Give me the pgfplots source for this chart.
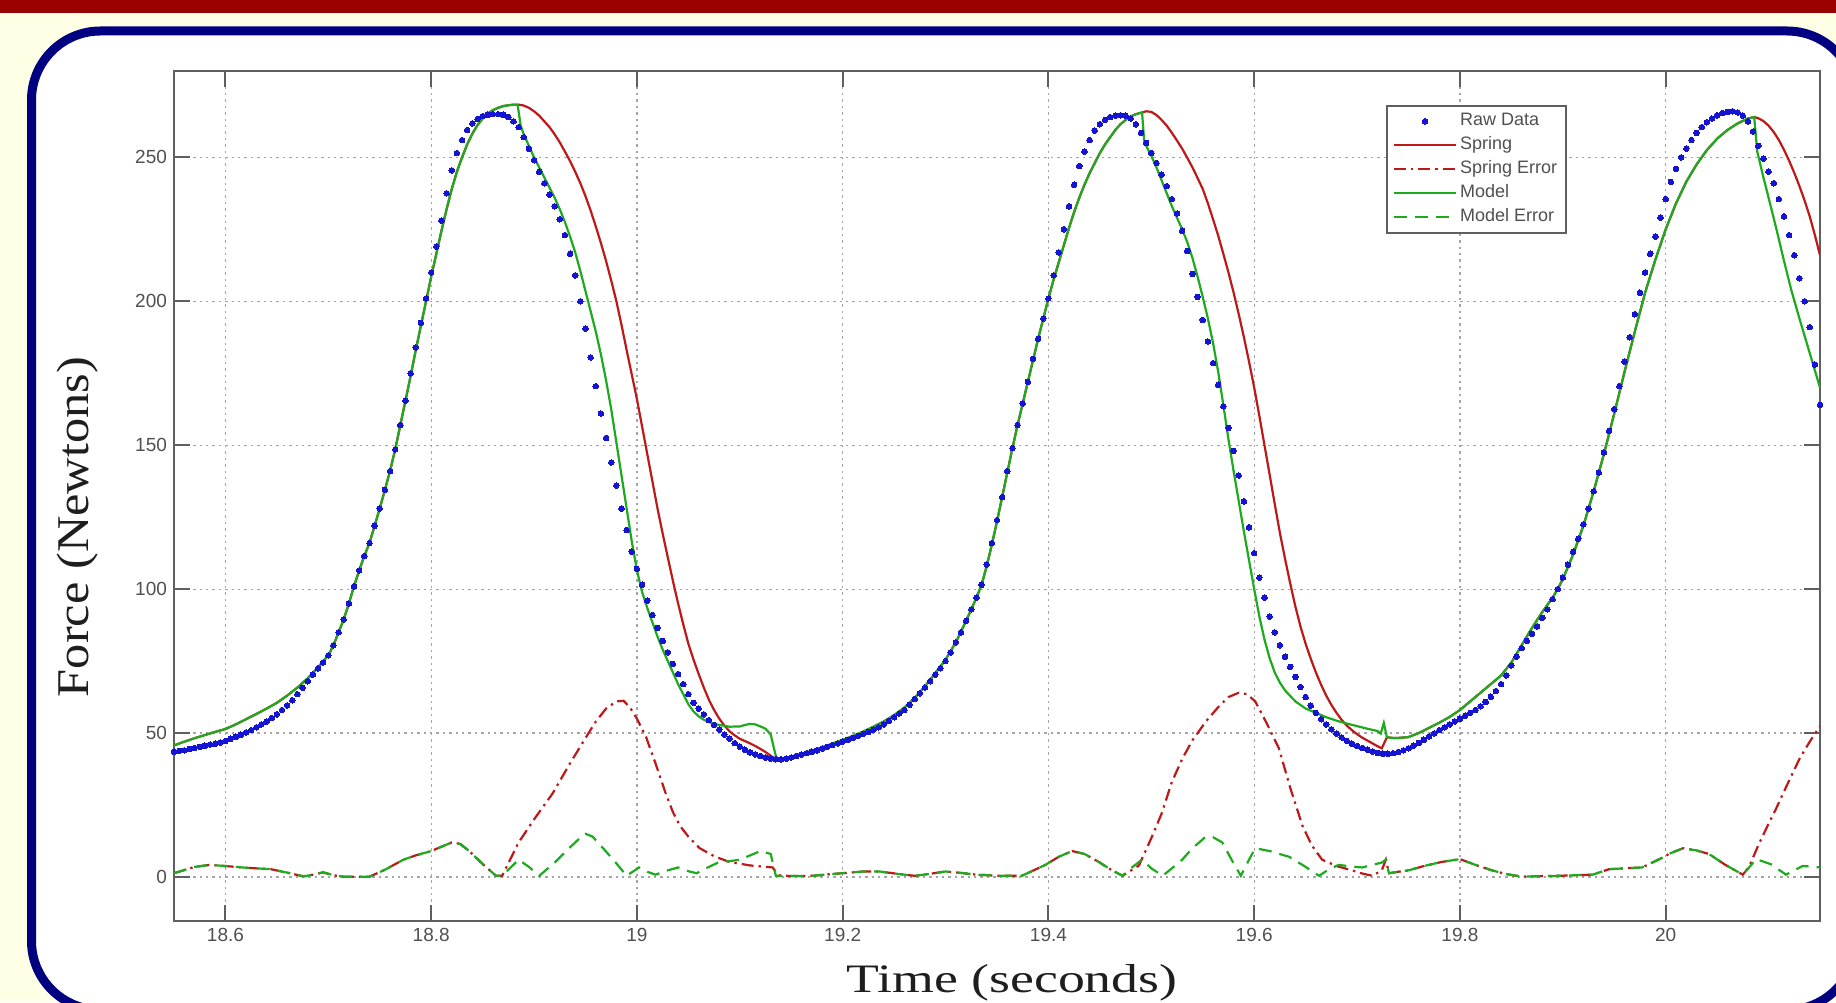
\documentclass[border=0pt]{standalone}
\usepackage{fontspec}
\setmainfont{Liberation Serif}
\setsansfont{Liberation Sans}
\usepackage{graphicx}
\usepackage{pgfplots}
\pgfplotsset{compat=1.18}
\definecolor{bgyellow}{RGB}{255,255,230}
\definecolor{topred}{RGB}{153,0,0}
\definecolor{boxnavy}{RGB}{0,0,128}
\definecolor{axgray}{RGB}{95,95,95}
\definecolor{gridgray}{RGB}{165,165,165}
\definecolor{ticktext}{RGB}{80,80,80}
\definecolor{labeltext}{RGB}{30,30,30}
\definecolor{rawblue}{RGB}{20,20,210}
\definecolor{springred}{RGB}{190,25,25}
\definecolor{modelgreen}{RGB}{30,170,30}
\begin{document}
\begin{tikzpicture}[x=1pt,y=1pt]
\fill[bgyellow] (0,0) rectangle (918,501);
\fill[topred] (0,494.5) rectangle (918,501);
\draw[boxnavy, line width=4.5pt, fill=white, rounded corners=34.5pt] (15.75,-4) rectangle (928,485.5);
\begin{axis}[
  at={(87pt,40.5pt)}, anchor=south west,
  scale only axis, width=823pt, height=425pt,
  xmin=18.55, xmax=20.15, ymin=-15.3, ymax=280,
  xtick={18.6,18.8,19,19.2,19.4,19.6,19.8,20},
  xticklabels={18.6,18.8,19,19.2,19.4,19.6,19.8,20},
  ytick={0,50,100,150,200,250},
  yticklabels={0,50,100,150,200,250},
  grid=major,
  major grid style={gridgray, line width=0.6pt, dash pattern=on 1.2pt off 2pt},
  axis line style={axgray, line width=1pt},
  tick align=inside, major tick length=8pt,
  every tick/.style={axgray, line width=1pt},
  tick label style={font=\sffamily\fontsize{9.5}{11}\selectfont, text=ticktext},
  /pgf/number format/assume math mode=true,
  legend image code/.code={\draw[mark repeat=2,mark phase=2,#1] plot coordinates {(0pt,0pt) (15.5pt,0pt) (31pt,0pt)};},
  legend cell align=left,
  legend style={at={(0.8463,0.96)}, anchor=north east, draw=axgray, line width=0.8pt, fill=white,
    font=\sffamily\fontsize{9}{10}\selectfont, text=ticktext, inner xsep=3pt, inner ysep=2pt, row sep=0.5pt,
    nodes={inner sep=1.5pt, text height=6.5pt, text depth=2pt}},
]
% Raw Data
\addplot[only marks, mark=*, mark size=1.4pt, mark options={fill=rawblue, draw=rawblue, line width=0pt}] table {
18.550 43.5
18.555 43.8
18.560 44.0
18.565 44.5
18.570 44.8
18.575 45.2
18.580 45.6
18.585 46.0
18.590 46.3
18.595 46.7
18.600 47.2
18.605 48.0
18.610 48.7
18.615 49.4
18.620 50.2
18.625 51.0
18.630 52.0
18.635 53.0
18.640 54.0
18.645 55.2
18.650 56.5
18.655 58.0
18.660 59.6
18.665 61.4
18.670 63.5
18.675 65.7
18.680 68.0
18.685 70.3
18.690 72.5
18.695 74.5
18.700 77.0
18.705 80.5
18.710 85.0
18.715 89.5
18.720 95.0
18.725 101.0
18.730 106.5
18.735 111.5
18.740 116.0
18.745 122.0
18.750 128.0
18.755 134.5
18.760 141.0
18.765 148.5
18.770 157.0
18.775 165.5
18.780 175.0
18.785 184.0
18.790 192.5
18.795 201.0
18.800 210.0
18.805 219.0
18.810 228.0
18.815 237.5
18.820 245.5
18.825 251.5
18.830 256.0
18.835 259.5
18.840 261.8
18.845 263.3
18.850 264.3
18.855 264.8
18.860 265.0
18.865 265.0
18.870 264.8
18.875 264.0
18.880 262.5
18.885 260.5
18.890 257.0
18.895 253.0
18.900 249.0
18.905 245.0
18.910 241.0
18.915 237.0
18.920 233.0
18.925 228.5
18.930 223.0
18.935 216.5
18.940 209.0
18.945 200.0
18.950 190.5
18.955 180.5
18.960 170.5
18.965 161.0
18.970 152.5
18.975 144.0
18.980 136.0
18.985 128.0
18.990 120.5
18.995 113.0
19.000 107.0
19.005 101.5
19.010 96.0
19.015 91.0
19.020 86.5
19.025 82.0
19.030 78.0
19.035 74.0
19.040 70.5
19.045 67.0
19.050 63.5
19.055 60.5
19.060 58.5
19.065 56.5
19.070 54.5
19.075 52.8
19.080 51.2
19.085 49.5
19.090 48.0
19.095 46.5
19.100 45.3
19.105 44.2
19.110 43.3
19.115 42.6
19.120 42.0
19.125 41.5
19.130 41.1
19.135 40.9
19.140 40.9
19.145 41.1
19.150 41.5
19.155 42.0
19.160 42.5
19.165 43.0
19.170 43.5
19.175 44.0
19.180 44.6
19.185 45.2
19.190 45.8
19.195 46.4
19.200 47.0
19.205 47.6
19.210 48.3
19.215 49.0
19.220 49.7
19.225 50.4
19.230 51.2
19.235 52.0
19.240 53.0
19.245 54.2
19.250 55.5
19.255 56.8
19.260 58.0
19.265 59.8
19.270 61.8
19.275 63.8
19.280 65.8
19.285 68.0
19.290 70.3
19.295 72.5
19.300 75.0
19.305 78.0
19.310 81.5
19.315 85.0
19.320 89.0
19.325 93.0
19.330 97.0
19.335 101.5
19.340 108.5
19.345 116.0
19.350 124.0
19.355 132.0
19.360 141.0
19.365 149.0
19.370 157.0
19.375 164.5
19.380 172.0
19.385 180.0
19.390 187.0
19.395 194.0
19.400 201.0
19.405 209.0
19.410 217.0
19.415 225.0
19.420 233.0
19.425 240.5
19.430 247.0
19.435 252.0
19.440 256.0
19.445 259.3
19.450 261.5
19.455 263.0
19.460 264.0
19.465 264.5
19.470 264.6
19.475 264.5
19.480 263.5
19.485 261.5
19.490 258.5
19.495 255.0
19.500 251.5
19.505 248.0
19.510 244.0
19.515 240.0
19.520 235.5
19.525 230.5
19.530 224.5
19.535 217.5
19.540 209.5
19.545 201.5
19.550 193.5
19.555 186.0
19.560 178.5
19.565 171.0
19.570 163.5
19.575 156.0
19.580 148.0
19.585 139.5
19.590 130.5
19.595 121.5
19.600 112.5
19.605 104.0
19.610 97.0
19.615 90.5
19.620 85.0
19.625 80.5
19.630 76.5
19.635 73.0
19.640 69.5
19.645 66.0
19.650 62.5
19.655 59.5
19.660 57.0
19.665 54.8
19.670 53.0
19.675 51.3
19.680 49.8
19.685 48.5
19.690 47.3
19.695 46.3
19.700 45.5
19.705 44.8
19.710 44.2
19.715 43.6
19.720 43.1
19.725 42.8
19.730 42.8
19.735 43.0
19.740 43.4
19.745 44.0
19.750 44.7
19.755 45.6
19.760 46.6
19.765 47.7
19.770 48.8
19.775 49.9
19.780 51.0
19.785 52.0
19.790 53.0
19.795 54.0
19.800 55.0
19.805 56.0
19.810 57.0
19.815 58.0
19.820 59.3
19.825 60.8
19.830 62.6
19.835 64.6
19.840 67.0
19.845 70.0
19.850 73.5
19.855 76.5
19.860 79.5
19.865 82.0
19.870 84.5
19.875 87.0
19.880 90.0
19.885 93.0
19.890 96.5
19.895 100.0
19.900 104.0
19.905 108.5
19.910 113.0
19.915 117.5
19.920 122.5
19.925 128.0
19.930 134.0
19.935 140.5
19.940 147.5
19.945 155.0
19.950 162.5
19.955 170.5
19.960 179.0
19.965 187.5
19.970 195.5
19.975 203.0
19.980 210.0
19.985 216.5
19.990 222.5
19.995 229.0
20.000 235.5
20.005 241.5
20.010 246.0
20.015 250.0
20.020 253.0
20.025 256.0
20.030 258.5
20.035 260.5
20.040 262.2
20.045 263.5
20.050 264.6
20.055 265.4
20.060 265.8
20.065 266.0
20.070 265.6
20.075 264.5
20.080 262.5
20.085 259.0
20.090 254.0
20.095 249.5
20.100 245.0
20.105 241.0
20.110 235.5
20.115 229.5
20.120 223.0
20.125 216.0
20.130 208.0
20.135 200.0
20.140 191.0
20.145 178.0
20.150 164.0
};
\addlegendentry{Raw Data}
% Spring
\addplot[springred, line width=1.1pt] table {
18.550 45.7
18.560 47.0
18.570 48.2
18.580 49.3
18.590 50.4
18.600 51.4
18.610 53.0
18.620 54.8
18.630 56.6
18.640 58.5
18.650 60.5
18.660 63.0
18.670 65.8
18.680 69.0
18.690 72.8
18.700 77.0
18.705 80.5
18.710 85.0
18.715 89.5
18.720 95.0
18.725 101.0
18.730 106.5
18.735 111.5
18.740 116.0
18.745 122.0
18.750 128.0
18.755 134.5
18.760 141.0
18.765 148.5
18.770 157.0
18.775 165.5
18.780 174.0
18.785 183.0
18.790 191.5
18.795 200.0
18.800 208.5
18.805 216.5
18.810 224.5
18.815 232.0
18.820 239.0
18.825 245.0
18.830 250.0
18.835 254.5
18.840 258.2
18.845 261.2
18.850 263.5
18.855 265.2
18.860 266.4
18.865 267.2
18.870 267.8
18.875 268.1
18.880 268.3
18.885 268.3
18.890 268.0
18.895 267.2
18.900 266.0
18.905 264.5
18.910 262.5
18.915 260.5
18.920 258.0
18.925 255.2
18.930 252.0
18.935 248.7
18.940 245.0
18.945 241.0
18.950 236.5
18.955 231.5
18.960 226.0
18.965 220.2
18.970 214.0
18.975 207.2
18.980 200.0
18.985 191.8
18.990 183.0
18.995 174.5
19.000 166.0
19.005 156.5
19.010 147.0
19.015 137.5
19.020 128.0
19.025 119.3
19.030 111.0
19.035 102.8
19.040 95.0
19.045 87.8
19.050 81.0
19.055 75.5
19.060 70.5
19.065 65.8
19.070 61.5
19.075 58.0
19.080 55.0
19.085 52.6
19.090 50.6
19.095 49.2
19.100 48.0
19.105 47.2
19.110 46.4
19.115 45.5
19.120 44.5
19.125 43.4
19.130 42.1
19.135 41.0
19.140 41.0
19.150 41.8
19.160 42.8
19.170 43.8
19.180 45.0
19.190 46.3
19.200 47.6
19.210 49.0
19.220 50.5
19.230 52.2
19.240 54.0
19.250 56.2
19.260 58.8
19.270 62.2
19.280 66.2
19.290 70.8
19.300 75.5
19.310 81.5
19.320 89.0
19.330 97.0
19.335 101.5
19.340 108.0
19.345 115.5
19.350 123.5
19.355 132.0
19.360 140.5
19.365 149.0
19.370 157.0
19.375 164.5
19.380 172.0
19.385 179.5
19.390 187.0
19.395 194.0
19.400 201.0
19.405 207.5
19.410 213.5
19.415 219.5
19.420 225.5
19.425 231.0
19.430 236.0
19.435 240.5
19.440 244.5
19.445 248.0
19.450 251.5
19.455 254.5
19.460 257.0
19.465 259.5
19.470 261.5
19.475 263.0
19.480 264.2
19.485 265.0
19.491 265.6
19.495 266.0
19.500 265.8
19.505 264.7
19.510 263.0
19.515 261.0
19.520 258.5
19.525 255.8
19.530 253.0
19.535 249.8
19.540 246.5
19.545 242.8
19.550 239.0
19.555 234.0
19.560 228.5
19.565 222.8
19.570 216.5
19.575 210.0
19.580 203.0
19.585 195.5
19.590 187.5
19.595 179.0
19.600 170.0
19.605 160.2
19.610 150.0
19.615 139.8
19.620 129.5
19.625 119.5
19.630 110.5
19.635 102.0
19.640 94.0
19.645 87.0
19.650 81.0
19.655 75.8
19.660 71.0
19.665 66.8
19.670 63.0
19.675 59.8
19.680 57.0
19.685 54.6
19.690 52.6
19.695 51.0
19.700 49.6
19.705 48.4
19.710 47.4
19.715 46.4
19.720 45.4
19.724 44.7
19.727 47.0
19.729 48.5
19.735 48.3
19.740 48.3
19.750 48.6
19.760 50.0
19.770 51.8
19.780 53.6
19.790 55.6
19.800 58.0
19.810 61.0
19.820 64.0
19.830 67.0
19.840 70.0
19.850 74.5
19.860 80.5
19.870 86.5
19.880 92.0
19.890 97.0
19.895 100.0
19.900 103.5
19.910 112.0
19.920 122.0
19.930 134.0
19.940 147.0
19.945 154.0
19.950 161.0
19.960 175.5
19.970 189.5
19.980 203.0
19.990 214.5
20.000 225.0
20.010 234.0
20.020 241.5
20.030 247.5
20.040 252.5
20.050 256.5
20.060 259.5
20.070 261.8
20.080 263.5
20.086 264.0
20.090 263.6
20.095 262.6
20.100 261.0
20.105 258.8
20.110 256.0
20.115 252.6
20.120 248.8
20.125 244.6
20.130 240.0
20.135 235.0
20.140 229.5
20.145 223.0
20.150 216.0
};
\addlegendentry{Spring}
% Spring Error
\addplot[springred, line width=1.1pt, dash pattern=on 6pt off 2.5pt on 1.2pt off 2.5pt] table {
18.550 1.3
18.560 2.4
18.570 3.5
18.585 4.2
18.600 3.8
18.620 3.2
18.644 2.7
18.660 1.5
18.676 0.2
18.685 0.8
18.695 1.6
18.705 0.6
18.715 0.1
18.740 0.1
18.755 2.5
18.773 6.0
18.785 7.5
18.800 9.0
18.810 10.5
18.820 12.0
18.828 11.5
18.837 9.0
18.850 4.5
18.863 0.4
18.869 0.4
18.885 12.0
18.900 20.0
18.918 29.0
18.935 39.5
18.953 50.0
18.960 54.0
18.970 58.5
18.980 61.0
18.987 61.2
18.993 59.0
19.000 55.0
19.009 48.5
19.018 39.5
19.028 29.0
19.035 22.5
19.042 17.7
19.050 14.0
19.061 10.0
19.075 7.2
19.090 5.2
19.110 4.0
19.132 3.3
19.137 0.6
19.150 0.3
19.171 0.4
19.185 0.9
19.203 1.4
19.220 1.9
19.236 1.9
19.255 1.0
19.270 0.4
19.285 1.1
19.300 1.9
19.315 1.4
19.330 0.8
19.352 0.4
19.374 0.4
19.385 2.2
19.397 4.2
19.410 7.0
19.423 9.0
19.435 8.0
19.449 5.2
19.460 2.7
19.472 0.4
19.488 4.0
19.500 13.5
19.510 22.0
19.520 33.0
19.530 41.0
19.540 47.5
19.553 54.0
19.565 59.0
19.575 62.5
19.585 64.0
19.593 63.5
19.601 61.0
19.612 53.5
19.624 44.7
19.635 31.0
19.647 17.7
19.656 11.0
19.666 6.0
19.680 3.8
19.695 2.3
19.705 1.2
19.715 0.4
19.724 2.3
19.728 6.0
19.731 1.3
19.740 1.8
19.750 2.3
19.765 3.8
19.782 5.2
19.800 6.2
19.815 4.2
19.831 2.3
19.845 1.0
19.860 0.1
19.880 0.3
19.896 0.4
19.912 0.6
19.929 0.8
19.945 2.7
19.960 3.0
19.977 3.3
19.994 6.2
20.005 8.3
20.017 10.0
20.030 9.2
20.042 8.0
20.058 4.2
20.075 0.8
20.081 3.5
20.090 11.0
20.100 18.5
20.107 23.5
20.118 32.0
20.130 41.0
20.140 47.0
20.150 52.4
};
\addlegendentry{Spring Error}
% Model
\addplot[modelgreen, line width=1.1pt] table {
18.550 45.7
18.560 47.0
18.570 48.2
18.580 49.3
18.590 50.4
18.600 51.4
18.610 53.0
18.620 54.8
18.630 56.6
18.640 58.5
18.650 60.5
18.660 63.0
18.670 65.8
18.680 69.0
18.690 72.8
18.700 77.0
18.705 80.5
18.710 85.0
18.715 89.5
18.720 95.0
18.725 101.0
18.730 106.5
18.735 111.5
18.740 116.0
18.745 122.0
18.750 128.0
18.755 134.5
18.760 141.0
18.765 148.5
18.770 157.0
18.775 165.5
18.780 174.0
18.785 183.0
18.790 191.5
18.795 200.0
18.800 208.5
18.805 216.5
18.810 224.5
18.815 232.0
18.820 239.0
18.825 245.0
18.830 250.0
18.835 254.5
18.840 258.2
18.845 261.2
18.850 263.5
18.855 265.2
18.860 266.4
18.865 267.2
18.870 267.8
18.875 268.1
18.880 268.3
18.884 268.3
18.887 261.0
18.890 258.0
18.895 254.0
18.900 250.0
18.905 246.5
18.910 243.0
18.915 239.5
18.920 236.0
18.925 232.0
18.930 227.5
18.935 222.5
18.940 217.0
18.945 210.5
18.950 203.5
18.955 196.5
18.960 189.5
18.965 181.5
18.970 172.5
18.975 162.5
18.980 151.0
18.985 139.5
18.990 128.0
18.995 116.5
19.000 106.5
19.005 99.0
19.010 93.5
19.015 88.5
19.020 83.5
19.025 79.0
19.030 75.0
19.035 71.0
19.040 67.0
19.045 63.5
19.050 60.0
19.055 57.5
19.060 55.8
19.065 54.6
19.070 53.8
19.075 53.2
19.080 52.8
19.090 52.2
19.100 52.3
19.105 52.8
19.110 53.2
19.115 53.0
19.120 52.3
19.125 51.5
19.130 49.5
19.135 42.0
19.137 41.0
19.140 41.0
19.150 41.8
19.160 42.8
19.170 43.8
19.180 45.0
19.190 46.3
19.200 47.6
19.210 49.0
19.220 50.5
19.230 52.2
19.240 54.0
19.250 56.2
19.260 58.8
19.270 62.2
19.280 66.2
19.290 70.8
19.300 75.5
19.310 81.5
19.320 89.0
19.330 97.0
19.335 101.5
19.340 108.0
19.345 115.5
19.350 123.5
19.355 132.0
19.360 140.5
19.365 149.0
19.370 157.0
19.375 164.5
19.380 172.0
19.385 179.5
19.390 187.0
19.395 194.0
19.400 201.0
19.405 207.5
19.410 213.5
19.415 219.5
19.420 225.5
19.425 231.0
19.430 236.0
19.435 240.5
19.440 244.5
19.445 248.0
19.450 251.5
19.455 254.5
19.460 257.0
19.465 259.5
19.470 261.5
19.475 263.0
19.480 264.2
19.485 265.0
19.491 265.6
19.493 256.0
19.495 254.0
19.500 250.5
19.505 246.5
19.510 242.0
19.515 237.5
19.520 233.0
19.525 229.0
19.530 225.0
19.535 220.5
19.540 215.0
19.545 208.5
19.550 201.5
19.555 194.0
19.560 185.5
19.565 175.5
19.570 164.0
19.575 152.0
19.580 141.0
19.585 130.5
19.590 120.0
19.595 110.0
19.600 100.0
19.605 90.5
19.610 82.5
19.615 76.0
19.620 71.0
19.625 67.5
19.630 64.8
19.640 61.0
19.650 58.5
19.660 57.0
19.670 55.5
19.680 54.3
19.690 53.3
19.700 52.4
19.710 51.5
19.720 50.7
19.723 49.8
19.726 53.5
19.729 48.5
19.735 48.3
19.740 48.3
19.750 48.6
19.760 50.0
19.770 51.8
19.780 53.6
19.790 55.6
19.800 58.0
19.810 61.0
19.820 64.0
19.830 67.0
19.840 70.0
19.850 74.5
19.860 80.5
19.870 86.5
19.880 92.0
19.890 97.0
19.895 100.0
19.900 103.5
19.910 112.0
19.920 122.0
19.930 134.0
19.940 147.0
19.945 154.0
19.950 161.0
19.960 175.5
19.970 189.5
19.980 203.0
19.990 214.5
20.000 225.0
20.010 234.0
20.020 241.5
20.030 247.5
20.040 252.5
20.050 256.5
20.060 259.5
20.070 261.8
20.080 263.5
20.086 264.0
20.089 252.0
20.095 243.0
20.100 236.0
20.107 226.0
20.115 214.0
20.122 204.0
20.130 194.0
20.140 182.0
20.150 170.0
};
\addlegendentry{Model}
% Model Error
\addplot[modelgreen, line width=1.1pt, dash pattern=on 6.5pt off 4pt] table {
18.550 1.3
18.560 2.4
18.570 3.5
18.585 4.2
18.600 3.8
18.620 3.2
18.644 2.7
18.660 1.5
18.676 0.2
18.685 0.8
18.695 1.6
18.705 0.6
18.715 0.1
18.740 0.1
18.755 2.5
18.773 6.0
18.785 7.5
18.800 9.0
18.810 10.5
18.820 12.0
18.828 11.5
18.837 9.0
18.850 4.5
18.863 0.4
18.869 0.4
18.875 2.5
18.885 6.0
18.895 3.5
18.905 0.4
18.920 5.0
18.934 10.0
18.943 13.0
18.950 15.0
18.957 14.0
18.967 10.0
18.977 6.0
18.990 0.4
19.002 3.3
19.010 1.8
19.018 0.8
19.030 2.3
19.040 3.3
19.050 2.0
19.058 1.3
19.070 3.5
19.080 5.2
19.090 5.5
19.100 6.0
19.110 7.5
19.120 9.0
19.130 8.0
19.135 0.4
19.150 0.3
19.171 0.4
19.185 0.9
19.203 1.4
19.220 1.9
19.236 1.9
19.255 1.0
19.270 0.4
19.285 1.1
19.300 1.9
19.315 1.4
19.330 0.8
19.352 0.4
19.374 0.4
19.385 2.2
19.397 4.2
19.410 7.0
19.423 9.0
19.435 8.0
19.449 5.2
19.460 2.7
19.472 0.4
19.480 3.0
19.491 6.0
19.500 3.0
19.511 0.4
19.520 3.0
19.530 6.0
19.540 10.0
19.553 14.0
19.560 13.8
19.569 12.0
19.578 6.0
19.587 0.4
19.595 6.0
19.601 10.0
19.615 9.0
19.634 7.0
19.650 3.5
19.663 0.4
19.672 2.5
19.682 4.2
19.695 3.6
19.705 3.3
19.715 4.2
19.724 5.0
19.728 6.0
19.731 1.3
19.740 1.8
19.750 2.3
19.765 3.8
19.782 5.2
19.800 6.2
19.815 4.2
19.831 2.3
19.845 1.0
19.860 0.1
19.880 0.3
19.896 0.4
19.912 0.6
19.929 0.8
19.945 2.7
19.960 3.0
19.977 3.3
19.994 6.2
20.005 8.3
20.017 10.0
20.030 9.2
20.042 8.0
20.058 4.2
20.075 0.8
20.088 6.2
20.096 5.2
20.104 4.2
20.110 2.5
20.117 0.8
20.125 2.3
20.133 3.8
20.142 3.6
20.150 3.3
};
\addlegendentry{Model Error}
\end{axis}
\node[anchor=base, text=labeltext, inner sep=0pt] at (506,4.6) {\scalebox{1.33}[1]{\fontsize{20.2}{24}\selectfont Time (seconds)}};
\node[text=labeltext, inner sep=0pt] at (39,237.5) {\rotatebox{90}{\scalebox{1.11}[1]{\fontsize{22.7}{26}\selectfont Force (Newtons)}}};
\pgfresetboundingbox
\useasboundingbox (0,0) rectangle (918,501);
\end{tikzpicture}
\end{document}
